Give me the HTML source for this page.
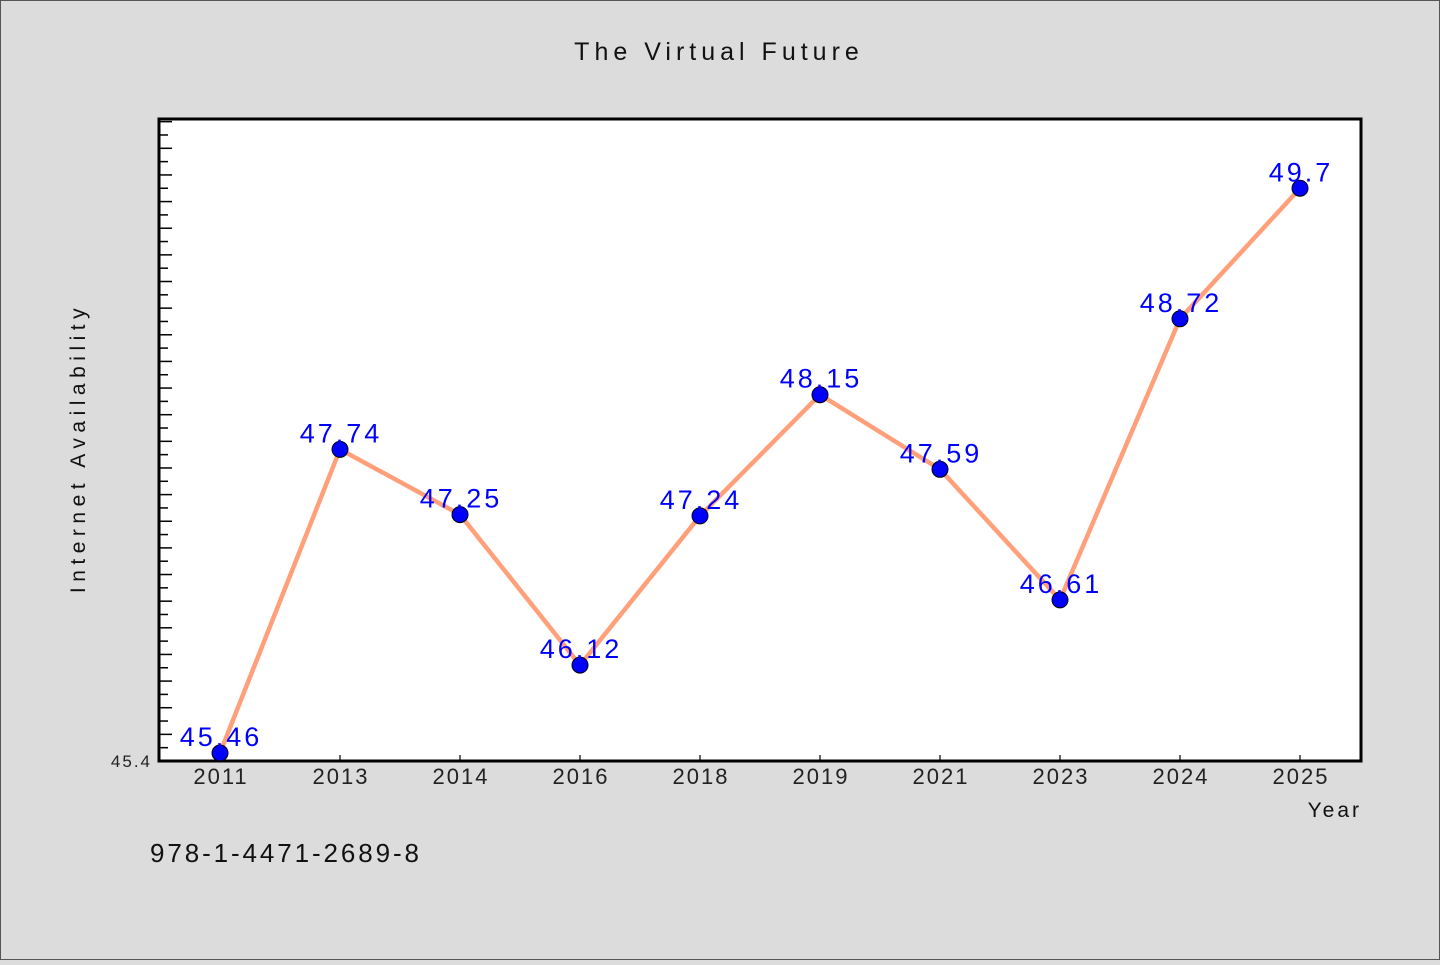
<!DOCTYPE html>
<html><head><meta charset="utf-8"><style>
html,body{margin:0;padding:0;background:#dcdcdc;}
body{width:1440px;height:960px;overflow:hidden;}
svg text{font-family:"WenQuanYi Zen Hei","Liberation Sans",sans-serif;}
</style></head><body>
<svg id="chart" width="1440" height="960" xmlns="http://www.w3.org/2000/svg">
<rect x="0.5" y="0.5" width="1439" height="959" fill="#dcdcdc" stroke="#555" stroke-width="1"/>
<text x="719" y="60" text-anchor="middle" font-size="25" fill="#111" letter-spacing="5">The Virtual Future</text>
<rect x="159" y="119" width="1202" height="642" fill="#fff"/>
<g id="yticks"></g>
<g id="xticks"></g>
<rect x="159" y="119" width="1202" height="642" fill="none" stroke="#000" stroke-width="3"/>
<g id="series"></g>
<text x="152" y="767" text-anchor="end" font-size="17" fill="#222" letter-spacing="2">45.4</text>
<text transform="translate(85,448) rotate(-90)" text-anchor="middle" font-size="21" fill="#111" letter-spacing="5.5">Internet Availability</text>
<text x="1362" y="817" text-anchor="end" font-size="21" fill="#111" letter-spacing="3">Year</text>
<text x="150" y="862" font-size="26" fill="#111" letter-spacing="2.9">978-1-4471-2689-8</text>
</svg>
<script>
const categories = ["2011","2013","2014","2016","2018","2019","2021","2023","2024","2025"];
const values = [45.46,47.74,47.25,46.12,47.24,48.15,47.59,46.61,48.72,49.7];
const valueLabels = ["45.46","47.74","47.25","46.12","47.24","48.15","47.59","46.61","48.72","49.7"];
const yMin = 45.4, yMax = 50.22;
const NS = "http://www.w3.org/2000/svg";
const X0 = 159, X1 = 1361, Y0 = 761, Y1 = 119;
function xs(i){ return 220 + i * (1300 - 220) / (categories.length - 1); }
function ys(v){ return Y0 - (v - yMin) / (yMax - yMin) * (Y0 - Y1); }
function mk(tag, attrs, parent){ const e = document.createElementNS(NS, tag); for (const k in attrs) e.setAttribute(k, attrs[k]); parent.appendChild(e); return e; }
const yt = document.getElementById('yticks');
for (let k = 1; ; k++) {
  const v = yMin + k * 0.1; if (v > yMax) break;
  const y = ys(v);
  const t = mk('line', {x1: X0, x2: X0 + (k % 2 === 0 ? 13 : 9), y1: y, y2: y, stroke: '#000', 'stroke-width': 1.5}, yt);
  
  
}
const xt = document.getElementById('xticks');
categories.forEach((c, i) => {
  const x = xs(i);
  const t = mk('line', {x1: x, x2: x, y1: Y0, y2: Y0 - 6, stroke: '#000', 'stroke-width': 1.2}, xt);
  
  
  const l = mk('text', {x: x + 1, y: 784, 'text-anchor': 'middle', 'font-size': 22, fill: '#222', 'letter-spacing': 2}, xt);
  l.textContent = c;
  
  
});
const g = document.getElementById('series');
const line = mk('polyline', {points: values.map((v, i) => xs(i) + ',' + ys(v)).join(' '), fill: 'none', stroke: '#ffa07a', 'stroke-width': 4.5, 'stroke-linejoin': 'round'}, g);


values.forEach((v, i) => {
  const p = mk('circle', {cx: xs(i), cy: ys(v), r: 8, fill: '#0000ff', stroke: '#000', 'stroke-width': 1}, g);
  
  
});
values.forEach((v, i) => {
  const l = mk('text', {x: xs(i) + 1, y: ys(v) - 7, 'text-anchor': 'middle', 'font-size': 27, fill: '#0000ff', 'letter-spacing': 3}, g);
  l.textContent = valueLabels[i];
  
  
});
</script>
</body></html>
